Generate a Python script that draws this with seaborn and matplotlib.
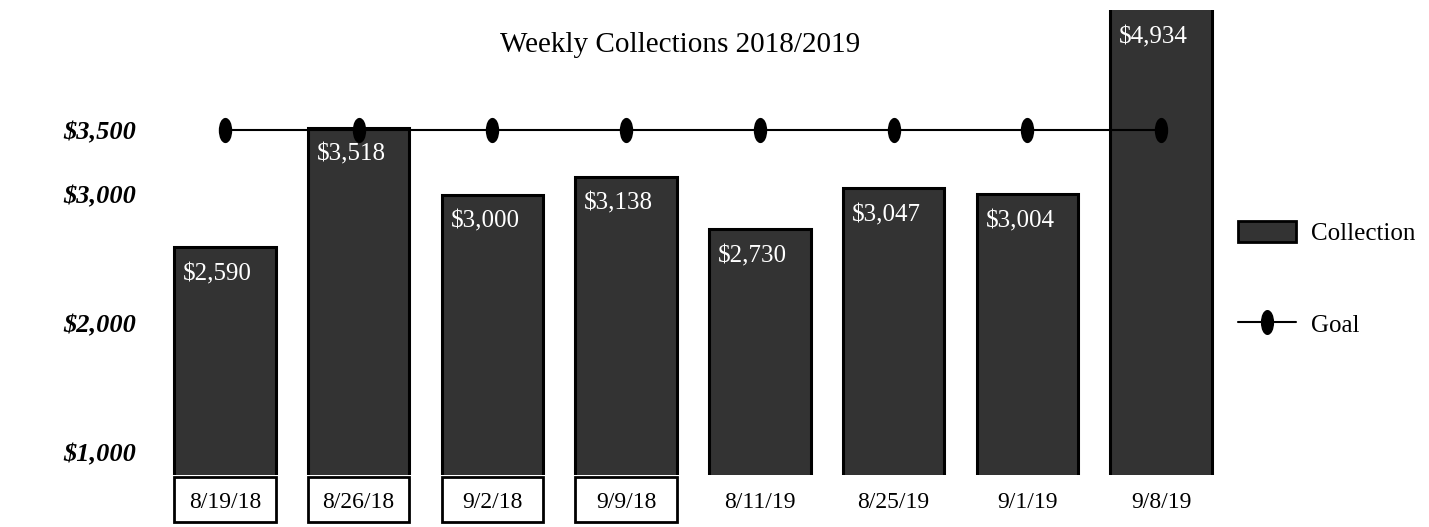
import numpy as np
import matplotlib
matplotlib.use("Agg")
import matplotlib.pyplot as plt
import seaborn as sns
from matplotlib.path import Path
from matplotlib.patches import Patch, Rectangle
from matplotlib.lines import Line2D

# ---- data ----
dates = ["8/19/18", "8/26/18", "9/2/18", "9/9/18", "8/11/19", "8/25/19", "9/1/19", "9/8/19"]
collections = [2590, 3518, 3000, 3138, 2730, 3047, 3004, 4934]
goal = [3500, 3500, 3500, 3500, 3500, 3500, 3500, 3500]
ytick_vals = [1000, 2000, 3000, 3500]
ytick_labels = ["$1,000", "$2,000", "$3,000", "$3,500"]
title = "Weekly Collections 2018/2019"

sns.set_theme(style="white")
plt.rcParams["font.family"] = ["Liberation Serif", "DejaVu Serif"]
plt.rcParams["text.color"] = "black"
plt.rcParams["xtick.color"] = "black"
plt.rcParams["ytick.color"] = "black"
plt.rcParams["axes.labelcolor"] = "black"

W, H = 1429, 527
fig = plt.figure(figsize=(W / 100, H / 100), dpi=100)
ax = fig.add_axes([158 / W, 1 - 475 / H, (1228 - 158) / W, 465 / H])

BAR_W = 0.76
sns.barplot(x=dates, y=collections, color="#333333", edgecolor="black",
            linewidth=2.2, width=BAR_W, saturation=1, ax=ax, zorder=2)
for p in ax.patches:
    p.set_facecolor("#333333")

circ = Path.unit_circle()
ellipse = Path(circ.vertices * np.array([0.5, 1.0]), circ.codes)
sns.pointplot(x=dates, y=goal, color="black", marker=ellipse, markersize=17,
              linewidth=1.5, errorbar=None, ax=ax, zorder=5)

ax.set_xlim(-0.5, len(dates) - 0.5)
YMIN, YMAX = 826, 4430
ax.set_ylim(YMIN, YMAX)
ax.set_yticks(ytick_vals)
ax.set_yticklabels(ytick_labels, fontsize=19, fontweight="bold", fontstyle="italic")
ax.tick_params(axis="y", length=0, pad=16, labelcolor="black")
ax.set_xticks(range(len(dates)))
ax.set_xticklabels(dates, fontsize=17)
ax.tick_params(axis="x", length=0, pad=12, labelcolor="black")
for s in ax.spines.values():
    s.set_visible(False)
ax.set_xlabel("")
ax.set_ylabel("")
ax.grid(False)

# value labels inside bars
for i, v in enumerate(collections):
    ax.annotate(f"${v:,}", xy=(i - BAR_W / 2, min(v, YMAX)), xytext=(6.5, -11.5),
                textcoords="offset points", ha="left", va="top",
                color="white", fontsize=18, zorder=6)

# boxes around 2018 date labels
for i, d in enumerate(dates):
    if d.endswith("/18"):
        ax.add_patch(Rectangle((i - BAR_W / 2, -0.101), BAR_W, 0.097,
                               transform=ax.get_xaxis_transform(), clip_on=False,
                               facecolor="white", edgecolor="black", linewidth=2, zorder=0))

fig.text(680 / W, 1 - 45 / H, title, ha="center", va="center", fontsize=21, color="black")

handles = [Patch(facecolor="#333333", edgecolor="black", linewidth=2),
           Line2D([], [], color="black", linewidth=1.5, marker=ellipse, markersize=17)]
leg = fig.legend(handles, ["Collection", "Goal"], loc="center left",
                 bbox_to_anchor=(1238 / W, 1 - 279 / H), frameon=False,
                 fontsize=18, handlelength=2.3, handleheight=0.9, handletextpad=0.6,
                 labelspacing=2.7, borderpad=0, borderaxespad=0)
for t in leg.get_texts():
    t.set_color("black")

fig.savefig("out.png", dpi=100)
